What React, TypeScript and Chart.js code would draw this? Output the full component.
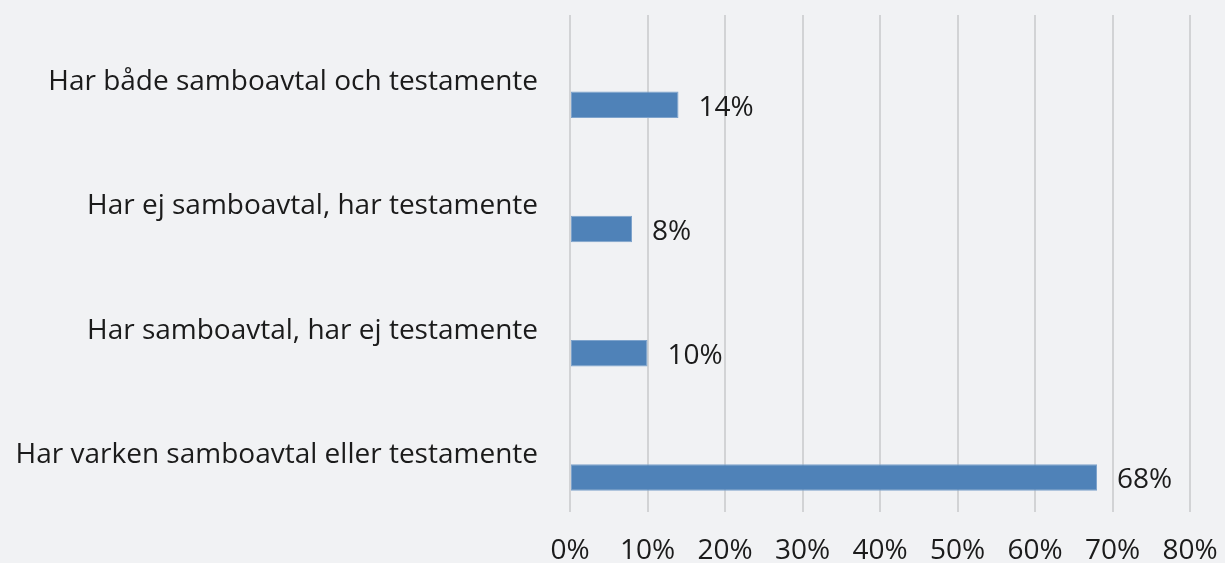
import React, { useEffect, useRef } from "react";
import { Chart, registerables } from "chart.js";

Chart.register(...registerables);

const categories = [
  "Har både samboavtal och testamente",
  "Har ej samboavtal, har testamente",
  "Har samboavtal, har ej testamente",
  "Har varken samboavtal eller testamente",
];
const values = [14, 8, 10, 68];
const spacer = [null, null, null, null];
const xTicks = [0, 10, 20, 30, 40, 50, 60, 70, 80];

const FONT = "'Open Sans'";
const FSIZE = 28;
const TEXT = "#1b1b1b";

const valueLabels = {
  id: "valueLabels",
  afterDatasetsDraw(chart: any) {
    const ctx = chart.ctx;
    const meta = chart.getDatasetMeta(1);
    ctx.save();
    ctx.font = `${FSIZE}px ${FONT}`;
    ctx.fillStyle = TEXT;
    ctx.textAlign = "left";
    ctx.textBaseline = "middle";
    meta.data.forEach((el: any, i: number) => {
      ctx.fillText(values[i] + "%", el.x + 20, el.y + 3);
    });
    ctx.restore();
  },
};

export default function App() {
  const ref = useRef<HTMLCanvasElement>(null);
  useEffect(() => {
    document.body.style.margin = "0";
    const chart = new Chart(ref.current!, {
      type: "bar",
      data: {
        labels: categories,
        datasets: [
          { data: spacer as any, backgroundColor: "transparent" },
          {
            data: values,
            backgroundColor: "#4f82b8",
            borderColor: "#7ea3cc",
            borderWidth: 1,
            borderSkipped: false,
          },
        ],
      },
      options: {
        indexAxis: "y",
        animation: false,
        responsive: false,
        maintainAspectRatio: false,
        categoryPercentage: 0.89,
        barPercentage: 0.48,
        layout: { padding: { top: 15, right: 0, left: 0, bottom: 0 } },
        plugins: { legend: { display: false }, tooltip: { enabled: false } },
        scales: {
          x: {
            min: 0,
            max: 80,
            afterBuildTicks: (axis: any) => {
              axis.ticks = xTicks.map((v) => ({ value: v }));
            },
            afterFit: (scale: any) => {
              scale.height = 51;
              scale.paddingRight = 35;
              scale.paddingLeft = 0;
            },
            grid: { color: "#d2d3d5", lineWidth: 2, drawTicks: false },
            border: { display: false },
            ticks: {
              padding: 22,
              color: TEXT,
              font: { family: FONT, size: FSIZE },
              callback: (v: any) => v + "%",
            },
          },
          y: {
            afterFit: (scale: any) => {
              scale.width = 570;
              scale.paddingTop = 0;
              scale.paddingBottom = 0;
            },
            grid: { display: false, drawTicks: false },
            border: { display: false },
            ticks: {
              padding: 32,
              labelOffset: 5,
              color: TEXT,
              font: { family: FONT, size: FSIZE },
            },
          },
        },
      },
      plugins: [valueLabels],
    });
    return () => chart.destroy();
  }, []);
  return (
    <div style={{ width: 1225, height: 563, background: "#f1f2f4" }}>
      <canvas ref={ref} width={1225} height={563} />
    </div>
  );
}
